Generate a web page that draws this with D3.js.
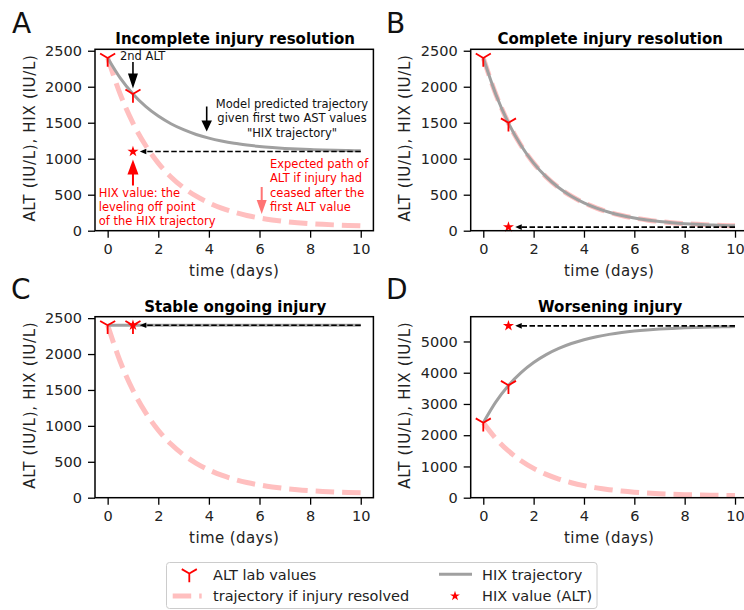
<!DOCTYPE html>
<html><head><meta charset="utf-8">
<script src="https://cdn.jsdelivr.net/npm/d3@7"></script>
<style>
body{margin:0;background:#fff}
svg{display:block}
text{font-family:"DejaVu Sans",Verdana,sans-serif}
</style>
</head><body>
<svg id="chart" width="744" height="610"></svg>
<script>
// ---------------- data ----------------
const days = [0,0.5,1,1.5,2,2.5,3,3.5,4,4.5,5,5.5,6,6.5,7,7.5,8,8.5,9,9.5,10];
const resolvedTrajectory = [2400,1893,1495,1184,939,747,597,479,387,314,257,212,177,150,128,111,98,88,80,73,68];
const hixTrajectoryA = [2400,2120,1900,1727,1592,1486,1403,1337,1286,1246,1214,1190,1170,1155,1143,1134,1127,1121,1116,1113,1110];
const hixTrajectoryB = [2400,1893,1495,1184,939,747,597,479,387,314,257,212,177,150,128,111,98,88,80,73,68];
const hixTrajectoryC = [2400,2400,2400,2400,2400,2400,2400,2400,2400,2400,2400,2400,2400,2400,2400,2400,2400,2400,2400,2400,2400];
const hixTrajectoryD = [2400,3069,3593,4005,4327,4580,4778,4934,5056,5152,5227,5286,5332,5368,5397,5419,5436,5450,5461,5469,5476];
const altDays = [0,1];
const altValuesA = [2400,1900];
const altValuesB = [2400,1500];
const altValuesC = [2400,2400];
const altValuesD = [2400,3600];
const hixValueDay = 1;
const hixValues = [1100,50,2400,5500];
const panelTitles = ["Incomplete injury resolution","Complete injury resolution","Stable ongoing injury","Worsening injury"];
const panelLetters = ["A","B","C","D"];
const xTicks = [0,2,4,6,8,10];
const yTicksSmall = [0,500,1000,1500,2000,2500];
const yTicksLarge = [0,1000,2000,3000,4000,5000];
const yMaxes = [2520,2520,2520,5793];
const xLabel = "time (days)";
const yLabel = "ALT (IU/L), HIX (IU/L)";
const legendLabels = ["ALT lab values","trajectory if injury resolved","HIX trajectory","HIX value (ALT)"];

// ---------------- layout / style ----------------
const PINK = "#ffbfbf", GRAY = "#a0a0a0", RED = "#ff0000";
const svg = d3.select("#chart");
const panels = [
  {hix: hixTrajectoryA, alt: altValuesA, yTicks: yTicksSmall, l:95,    r:373.4, t:49.3,  b:230.7, letter:[12,33],  ylabX:35,  xlabY:275.5},
  {hix: hixTrajectoryB, alt: altValuesB, yTicks: yTicksSmall, l:470.7, r:747.6, t:49.3,  b:230.7, letter:[386,32.5], ylabX:409.5, xlabY:275.5},
  {hix: hixTrajectoryC, alt: altValuesC, yTicks: yTicksSmall, l:95,    r:373.4, t:316.7, b:497.7, letter:[11,298.5], ylabX:35,  xlabY:543},
  {hix: hixTrajectoryD, alt: altValuesD, yTicks: yTicksLarge, l:470.7, r:747.6, t:316.7, b:497.7, letter:[386,298.5], ylabX:409.5, xlabY:543}
];

function triDown(cx, cy, r){
  return `M${cx},${cy}L${cx},${cy+r}M${cx},${cy}L${cx-0.866*r},${cy-0.5*r}M${cx},${cy}L${cx+0.866*r},${cy-0.5*r}`;
}
function vArrow(g, x, y0, y1, color, shaftW, headW, headL){
  const s = Math.sign(y1 - y0);
  g.append("line").attr("x1",x).attr("x2",x).attr("y1",y0).attr("y2",y1 - s*headL*0.8)
    .attr("stroke",color).attr("stroke-width",shaftW);
  g.append("path").attr("d",`M${x},${y1}L${x-headW/2},${y1-s*headL}L${x+headW/2},${y1-s*headL}Z`)
    .attr("fill",color);
}

panels.forEach((p, i) => {
  const g = svg.append("g");
  const x = d3.scaleLinear().domain([-0.5,10.5]).range([p.l,p.r]);
  const y = d3.scaleLinear().domain([0,yMaxes[i]]).range([p.b,p.t]);
  const line = d3.line().x((d,k)=>x(days[k])).y(d=>y(d)).curve(d3.curveMonotoneX);

  // axes
  const ax = g.append("g").attr("transform",`translate(0,${p.b})`)
    .call(d3.axisBottom(x).tickValues(xTicks).tickSize(7).tickPadding(6).tickFormat(d3.format("d")));
  const ay = g.append("g").attr("transform",`translate(${p.l},0)`)
    .call(d3.axisLeft(y).tickValues(p.yTicks).tickSize(7).tickPadding(6).tickFormat(d3.format("d")));
  [ax,ay].forEach(a=>{
    a.attr("font-family",null).attr("font-size",14.5);
    a.select(".domain").remove();
    a.selectAll(".tick line").attr("stroke","#000").attr("stroke-width",1.3);
    a.selectAll(".tick text").attr("fill","#222");
  });

  // curves
  g.append("path").attr("d",line(resolvedTrajectory)).attr("fill","none")
    .attr("stroke",PINK).attr("stroke-width",5).attr("stroke-dasharray","18.5,8");
  g.append("path").attr("d",line(p.hix)).attr("fill","none")
    .attr("stroke",GRAY).attr("stroke-width",3);

  // dashed arrow to HIX value
  const hy = y(hixValues[i]);
  const tipX = x(1.27);
  g.append("line").attr("x1",x(10)).attr("x2",tipX+6).attr("y1",hy).attr("y2",hy)
    .attr("stroke","#000").attr("stroke-width",1.6).attr("stroke-dasharray","5.5,2.5");
  g.append("path").attr("d",`M${tipX},${hy}L${tipX+6.5},${hy-2.8}L${tipX+6.5},${hy+2.8}Z`).attr("fill","#000");

  // ALT markers
  altDays.forEach((dd,k)=>{
    g.append("path").attr("d",triDown(x(dd),y(p.alt[k]),8.7)).attr("fill","none")
      .attr("stroke",RED).attr("stroke-width",1.8);
  });
  // HIX value star
  g.append("path").attr("d",d3.symbol(d3.symbolStar,38)())
    .attr("transform",`translate(${x(hixValueDay)},${hy})`).attr("fill",RED);

  // frame
  g.append("rect").attr("x",p.l).attr("y",p.t).attr("width",p.r-p.l).attr("height",p.b-p.t)
    .attr("fill","none").attr("stroke","#000").attr("stroke-width",1.5);

  // title & labels
  g.append("text").attr("x",(p.l+p.r)/2+1).attr("y",p.t-5).attr("text-anchor","middle")
    .attr("font-size",15).attr("font-weight","bold").attr("fill","#000").text(panelTitles[i]);
  g.append("text").attr("x",(p.l+p.r)/2).attr("y",p.xlabY).attr("text-anchor","middle")
    .attr("font-size",15).attr("letter-spacing",0.4).attr("fill","#222").text(xLabel);
  g.append("text").attr("transform",`translate(${p.ylabX},${(p.t+p.b)/2-2}) rotate(-90)`).attr("text-anchor","middle")
    .attr("font-size",15).attr("letter-spacing",0.7).attr("fill","#222").text(yLabel);
  g.append("text").attr("x",p.letter[0]).attr("y",p.letter[1])
    .attr("font-family","'Open Sans',sans-serif").attr("font-size",28).attr("fill","#111").text(panelLetters[i]);

  if (i === 0) {
    const fs = 11.5;
    g.append("text").attr("x",120).attr("y",60).attr("font-size",fs).attr("fill","#111").text("2nd ALT");
    vArrow(g, x(1), 62, 88.5, "#000", 1.6, 10, 15);
    const m = ["Model predicted trajectory","given first two AST values","\"HIX trajectory\""];
    m.forEach((s,k)=>g.append("text").attr("x",292).attr("y",107.5+k*14.5).attr("text-anchor","middle")
      .attr("font-size",fs).attr("fill","#111").text(s));
    vArrow(g, 206.7, 106.5, 131.5, "#000", 1.6, 10.5, 11);
    const h = ["HIX value: the","leveling off point","of the HIX trajectory"];
    h.forEach((s,k)=>g.append("text").attr("x",98.8).attr("y",196.5+k*14).attr("font-size",fs).attr("fill",RED).text(s));
    vArrow(g, x(1), 185.5, 159.5, RED, 2, 11, 15);
    const e = ["Expected path of","ALT if injury had","ceased after the","first ALT value"];
    e.forEach((s,k)=>g.append("text").attr("x",270).attr("y",168+k*14.4).attr("font-size",fs).attr("fill",RED).text(s));
    vArrow(g, 261.7, 187, 214, "#ff7474", 2, 10, 14);
  }
});

// ---------------- legend ----------------
const lg = svg.append("g");
lg.append("rect").attr("x",166.5).attr("y",562.5).attr("width",430.5).attr("height",46).attr("rx",3)
  .attr("fill","#fff").attr("stroke","#cccccc").attr("stroke-width",1);
lg.append("path").attr("d",triDown(189.3,573.5,8.7)).attr("fill","none").attr("stroke",RED).attr("stroke-width",1.8);
lg.append("line").attr("x1",172.7).attr("x2",201.7).attr("y1",596).attr("y2",596)
  .attr("stroke",PINK).attr("stroke-width",5).attr("stroke-dasharray","18.5,8");
lg.append("line").attr("x1",439).attr("x2",472).attr("y1",574.3).attr("y2",574.3)
  .attr("stroke",GRAY).attr("stroke-width",3);
lg.append("path").attr("d",d3.symbol(d3.symbolStar,30)()).attr("transform","translate(455,596)").attr("fill",RED);
[[213,579.5],[213,600.5],[482,579.5],[482,600.5]].forEach((pos,k)=>{
  lg.append("text").attr("x",pos[0]).attr("y",pos[1]).attr("font-size",14.5).attr("fill","#222").text(legendLabels[k]);
});
</script>
</body></html>
